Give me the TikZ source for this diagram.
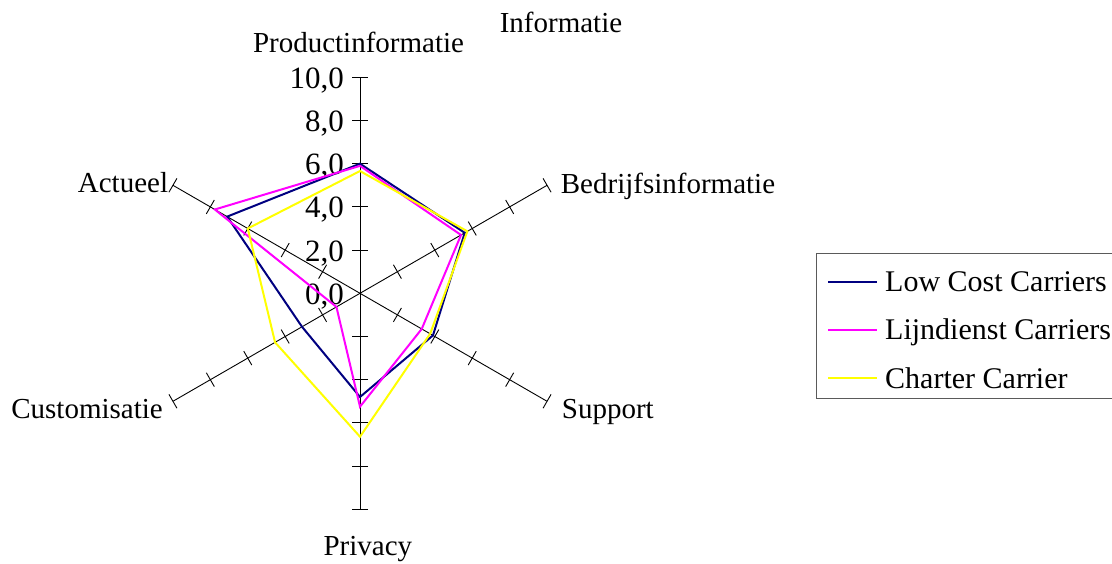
\documentclass[tikz,border=0pt]{standalone}
\usepackage{fontspec}
\setmainfont{Liberation Serif}
\usetikzlibrary{calc}
\definecolor{lcnavy}{RGB}{0,0,128}
\definecolor{ljmagenta}{RGB}{255,0,255}
\definecolor{chyellow}{RGB}{255,255,0}
\definecolor{framegray}{RGB}{90,90,90}
\begin{document}
\begin{tikzpicture}[x=1pt,y=1pt,
  axisline/.style={line width=0.9pt,black},
  tickline/.style={line width=0.9pt,black},
  series/.style={line width=2pt,line join=miter,miter limit=4},
  lbl/.style={inner sep=0pt,font=\fontsize{29}{34}\selectfont},
  numlbl/.style={inner sep=0pt,font=\fontsize{31}{36}\selectfont,anchor=base east},
  leglbl/.style={inner sep=0pt,font=\fontsize{30}{36}\selectfont,anchor=base west},
  legframe/.style={draw=framegray,line width=1pt}]
\useasboundingbox (0,0) rectangle (1112,563);
\coordinate (O) at (360,269.7);
% radial axes with tick marks every 2 units (43.2pt)
\foreach \ang/\nm in {90/pi,30/bi,-30/su,-90/pr,210/cu,150/ac}{
  \path (O) ++(\ang:216) coordinate (\nm);
  \draw[axisline] (O) -- (\nm);
  \foreach \k in {1,...,5}{
    \path (O) ++(\ang:{\k*43.2}) coordinate (t\nm\k);
    \draw[tickline] ($(t\nm\k)+(\ang+90:8)$) -- ($(t\nm\k)+(\ang-90:8)$);
  }
}
% scale values on the vertical axis
\foreach \k/\v in {0/{0,0},1/{2,0},2/{4,0},3/{6,0},4/{8,0},5/{10,0}}{
  \node[numlbl] (val\k) at (344,{269.7+\k*43.2-11}) {\v};
}
% data series
\foreach \sr/\col/\a/\b/\c/\d/\e/\f in {
    lc/lcnavy/6.0/5.6/3.9/4.8/3.1/7.1,
    lj/ljmagenta/5.9/5.4/3.3/5.25/1.26/7.76,
    ch/chyellow/5.66/5.74/3.75/6.64/4.54/6.0}{
  \path (O) ++(90:{\a*21.6}) coordinate (\sr1);
  \path (O) ++(30:{\b*21.6}) coordinate (\sr2);
  \path (O) ++(-30:{\c*21.6}) coordinate (\sr3);
  \path (O) ++(-90:{\d*21.6}) coordinate (\sr4);
  \path (O) ++(210:{\e*21.6}) coordinate (\sr5);
  \path (O) ++(150:{\f*21.6}) coordinate (\sr6);
  \draw[series,\col] (\sr1) -- (\sr2) -- (\sr3) -- (\sr4) -- (\sr5) -- (\sr6) -- cycle;
}
% titles and axis labels
\node[lbl,anchor=base] (title) at (561,530) {Informatie};
\node[lbl,anchor=base] (lpi) at (358.5,510.3) {Productinformatie};
\node[lbl,anchor=base west] (lbi) at (560.7,369.7) {Bedrijfsinformatie};
\node[lbl,anchor=base west] (lsu) at (561.7,144.7) {Support};
\node[lbl,anchor=base] (lpr) at (367.9,8) {Privacy};
\node[lbl,anchor=base east] (lcu) at (163,144.7) {Customisatie};
\node[lbl,anchor=base east] (lac) at (168.3,370.3) {Actueel};
% legend
\draw[legframe] (1120,309.5) -- (816.7,309.5) -- (816.7,164) -- (1120,164);
\foreach \i/\yy/\col/\txt in {1/281.3/lcnavy/Low Cost Carriers,
    2/233/ljmagenta/Lijndienst Carriers,
    3/184.7/chyellow/Charter Carrier}{
  \coordinate (la\i) at (828.3,\yy);
  \coordinate (lb\i) at (877.3,\yy);
  \draw[series,\col] (la\i) -- (lb\i);
  \node[leglbl] (lt\i) at (885,\yy-10) {\txt};
}
\end{tikzpicture}
\end{document}
